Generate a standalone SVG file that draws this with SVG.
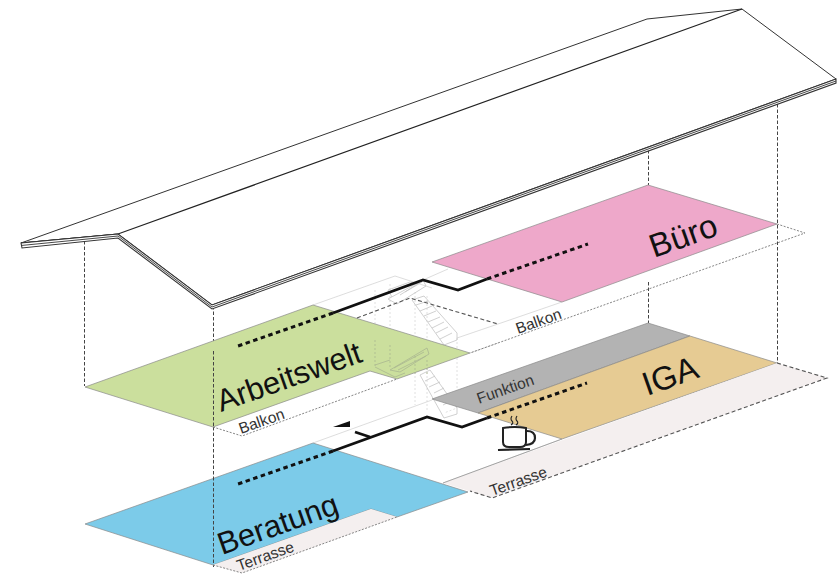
<svg xmlns="http://www.w3.org/2000/svg" width="838" height="574" viewBox="0 0 838 574">
<style>
text{font-family:"Liberation Sans",Arial,sans-serif;fill:#111}
.big{font-size:31px}
.big2{font-size:33px}
.small{font-size:15.500px;fill:#333}
.floor{stroke:#8a8a8a;stroke-width:.7}
.guide{fill:none;stroke:#444;stroke-width:1;stroke-dasharray:3.5 2}
.dot{fill:none;stroke:#777;stroke-width:.9;stroke-dasharray:2 1.5}
.faint{fill:none;stroke:#d4d4d4;stroke-width:.8}
.fdot{fill:none;stroke:#d8d8d8;stroke-width:.8;stroke-dasharray:2 2}
.stair{fill:none;stroke:#c4c4c4;stroke-width:.8}
.gstair{fill:none;stroke:#a9b690;stroke-width:.8}
.gdot{fill:none;stroke:#a9b690;stroke-width:.8;stroke-dasharray:2 2}
.path{fill:none;stroke:#111;stroke-width:2.800;stroke-linejoin:miter}
.pdot{fill:none;stroke:#111;stroke-width:3;stroke-dasharray:4.500 3.500}
.roof{fill:#fff;stroke:#333;stroke-width:1;stroke-linejoin:round}
.dash2{fill:none;stroke:#555;stroke-width:1.100;stroke-dasharray:4 2.500}
</style>
<rect width="838" height="574" fill="#fff"/>
<g id="guides">
<path class="guide" d="M84.500 241V386M213.500 306V567M648.500 150V185M648.500 282V323M777.500 104V363"/>
</g>
<g id="stairs">
<path class="faint" d="M313 305L395 276L432 288M423 280L448 269M498 324L457 338M498 324L562 302M470 353L498 343M313 443L432 400M443 483L562 439"/>
<path class="fdot" d="M375 290V372M390 284V370M415 292V405M427 296V410M457 338V408L444 413"/>
<path class="stair" d="M388 299L423 280L426 286L397 304ZM392 297L388 290L410 282L416 284M400 295L419 283M405 292L422 282"/>
<path class="stair" d="M412 300L424 296L457 333V340L444 345ZM416 305L428 301M420 311L432 306M424 316L436 311M428 322L440 317M432 328L444 322M436 333L448 327M440 339L452 333"/>
<path class="stair" d="M420 375L430 370L457 408V414L444 418ZM425 381L435 376M429 387L440 382M434 393L444 388M438 399L449 394M443 405L453 400"/>
</g>
<g id="roof">
<path class="roof" d="M21 243L647 19L742 9L836 79L212 305L118 234L21 243Z"/>
<path d="M21 243L118 234L742 9" fill="none" stroke="#222" stroke-width="1.200"/>
<path d="M21 243L22 248L118 238L212 309L836 83L836 79L212 305L118 234Z" fill="#fff" stroke="#333" stroke-width="1.100"/>
<path d="M21 245.500L118 236L212 307L836 81" fill="none" stroke="#333" stroke-width=".9"/>
</g>
<g id="balkon-upper">
<path class="dot" d="M777 224L805 233L470 353"/>
<text class="small" transform="translate(518 334) rotate(-19.500)">Balkon</text>
</g>
<g id="buero">
<polygon class="floor" points="648,185 777,224 562,302 432,262" fill="#eea8ca"/>
<text class="big2" transform="translate(654 258) rotate(-19.500)">Büro</text>
</g>
<g id="arbeitswelt">
<polygon class="floor" points="85,387 313,305 470,353 397,379 370,371 213,427" fill="#cbdf9d"/>
<path class="guide" d="M213.500 351V427"/>
<path class="dot" d="M213 427L242 436L397 379"/>
<path class="gdot" d="M375 340V368M390 345V368M415 356V376M427 360V374"/>
<path class="gstair" d="M390 370L427 348L429 354L400 372ZM394 368L424 352M398 370L426 356M375 365L390 360M375 367L395 377L405 373"/>
<text class="big" transform="translate(221 412) rotate(-19.500)">Arbeitswelt</text>
<text class="small" transform="translate(241 434) rotate(-19.500)">Balkon</text>
</g>
<g id="funktion">
<polygon class="floor" points="648,323 690,336 478,413 432,399" fill="#b3b3b3"/>
<text class="small" transform="translate(479 404) rotate(-19.500)">Funktion</text>
</g>
<g id="iga">
<polygon class="floor" points="690,336 777,363 562,439 478,413" fill="#e6cb93"/>
<text class="big2" transform="translate(647 396) rotate(-19.500)">IGA</text>
</g>
<g id="terrasse-iga">
<polygon points="777,363 827,378 492,498 443,483" fill="#f4efef"/>
<path class="dash2" d="M777 363L827 378L492 498L470 491" stroke-width=".9"/>
<path d="M443 483L562 439" fill="none" stroke="#888" stroke-width=".7"/>
<text class="small" transform="translate(492 496) rotate(-19.500)">Terrasse</text>
</g>
<g id="beratung">
<polygon class="floor" points="85,524 313,443 468,492 397,517 371,509 213,565" fill="#7ccbe9"/>
<polygon points="213,565 371,509 397,517 242,573" fill="#f4efef"/>
<path class="dot" d="M213 565L242 573L397 517"/>
<path class="guide" d="M213.500 477V565"/>
<text class="big" transform="translate(222 555) rotate(-19.500)">Beratung</text>
<text class="small" transform="translate(239 571) rotate(-19.500)">Terrasse</text>
</g>
<g id="cup" fill="none" stroke="#222">
<path d="M503 428Q515 426 526 428V442Q526 447 520 447H509Q503 447 503 442Z" fill="#fff" stroke-width="2"/>
<path d="M527 431Q535 431 535 438Q535 444 526 445" stroke-width="2.200"/>
<path d="M498 450L530 449" stroke-width="2.200"/>
<path d="M512 416Q510 419 512 421T511 425M517 416Q515 419 517 421T516 425" stroke-width="1.100"/>
</g>
<g id="connectors">
<path class="pdot" d="M333 313L238 346"/>
<path class="path" d="M333 313L423 280L458 290L487 279"/>
<path class="pdot" d="M487 279L588 244"/>
<path class="dash2" d="M357 318L410 298L498 324"/>
<path class="pdot" d="M333 451L238 484"/>
<path class="path" d="M333 451L427 417L462 427L487 418"/>
<path class="pdot" d="M487 418L587 383"/>
<path class="path" d="M355 432L370 437" stroke-width="2"/>
<polygon points="333,427 350,421 350,427" fill="#111"/>
</g>
</svg>
